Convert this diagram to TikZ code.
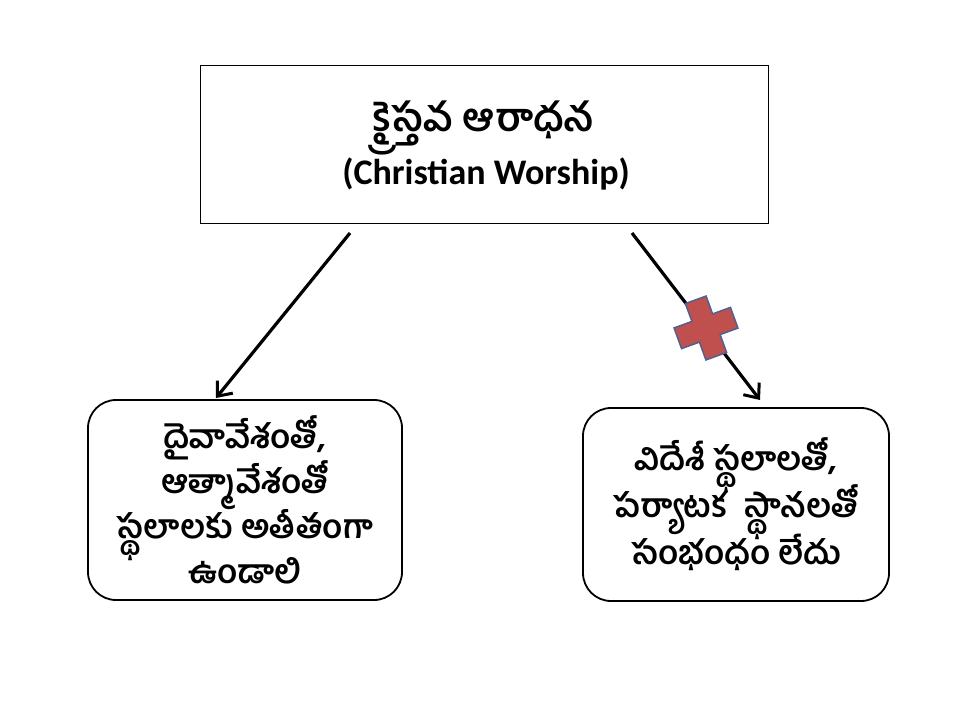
\documentclass[tikz,border=0pt]{standalone}
\usepackage{fontspec}
\setmainfont{Carlito}
\newfontfamily\telugu[Script=Telugu]{Hind Guntur}
\usetikzlibrary{arrows.meta}
\newcommand\mytightlines{\lineskiplimit=-100pt\relax\lineskip=0pt\relax}
\definecolor{crossred}{HTML}{C0504D}
\definecolor{crossedge}{HTML}{4F6190}
\tikzset{
  titlebox/.style={draw=black, line width=0.8pt, minimum width=568pt, minimum height=158pt, align=center, inner sep=0pt},
  roundbox/.style={draw=black, line width=1.8pt, rounded corners=28pt, align=center, inner sep=0pt},
  tel/.style={font=\telugu\fontsize{33}{45}\selectfont\bfseries\mytightlines},
  conn/.style={line width=3.2pt, -{Straight Barb[length=12pt,width=20pt,line width=3pt]}},
}
\begin{document}
\begin{tikzpicture}[x=1pt,y=-1pt]
\useasboundingbox (0,0) rectangle (960,720);
\fill[white] (0,0) rectangle (960,720);
\node[titlebox] (title) at (484,144) {};
\node[font=\telugu\fontsize{39}{50}\selectfont\bfseries, anchor=base, inner sep=0pt] (t1) at (484,131) {క్రైస్తవ ఆరాధన};
\node[font=\fontsize{36}{42}\selectfont\bfseries, anchor=base, inner sep=0pt] (t2) at (486,184) {(Christian Worship)};
\node[roundbox, tel, minimum width=314pt, minimum height=200pt] (lb) at (245,500) {దైవావేశంతో,\\ఆత్మావేశంతో\\స్థలాలకు అతీతంగా\\ఉండాలి};
\node[roundbox, minimum width=306pt, minimum height=193pt, font=\telugu\fontsize{33}{47}\selectfont\bfseries\mytightlines] (rb) at (736,504.5) {విదేశీ స్థలాలతో,\\పర్యాటక\ \ స్థానలతో\\సంభంధం లేదు};
\coordinate (s1) at (350,233);
\coordinate (e1) at (216,398);
\coordinate (s2) at (632,233);
\coordinate (e2) at (760,400);
\draw[conn] (s1) -- (e1);
\draw[conn] (s2) -- (e2);
\begin{scope}[shift={(706,328)}, rotate=20]
\filldraw[fill=crossred, draw=crossedge, line width=1.5pt]
  (-11,-30) -- (11,-30) -- (11,-11) -- (30,-11) -- (30,11) -- (11,11) -- (11,30) -- (-11,30) -- (-11,11) -- (-30,11) -- (-30,-11) -- (-11,-11) -- cycle;
\end{scope}
\end{tikzpicture}
\end{document}
